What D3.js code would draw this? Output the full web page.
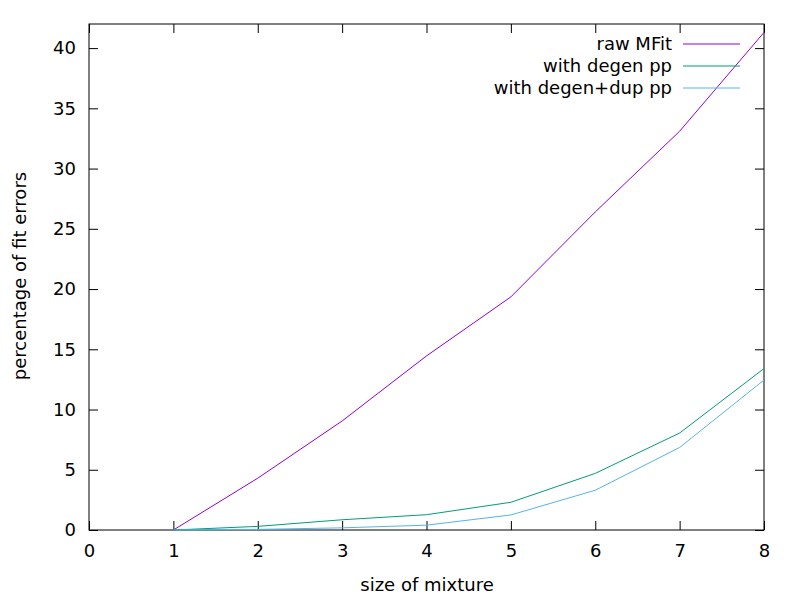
<!DOCTYPE html>
<html><head><meta charset="utf-8">
<script src="https://cdn.jsdelivr.net/npm/d3@7"></script>
<style>body{margin:0;background:#fff}text{font-family:"DejaVu Sans",sans-serif;}</style>
</head><body><svg id="c" width="800" height="600"></svg>
<script>
const sizes = [1,2,3,4,5,6,7,8];
const rawMFit = [0,4.3,9.05,14.45,19.35,26.4,33.1,41.3];
const degenPP = [0,0.3,0.85,1.27,2.3,4.7,8.05,13.4];
const degenDupPP = [0,0.05,0.18,0.4,1.25,3.3,6.85,12.45];
const seriesNames = ["raw MFit","with degen pp","with degen+dup pp"];
const colors = ["#9400d3","#009e73","#56b4e9"];
const xTicks = [0,1,2,3,4,5,6,7,8];
const yTicks = [0,5,10,15,20,25,30,35,40];

const L=89,R=764,T=24,B=530;
const svg=d3.select("#c");
const x=d3.scaleLinear().domain([0,8]).range([L,R]);
const y=d3.scaleLinear().domain([0,42]).range([B,T]);
const fs="18px";

const gx=svg.append("g").attr("transform",`translate(0,${B})`)
  .call(d3.axisBottom(x).tickValues(xTicks).tickSizeInner(-9).tickSizeOuter(0).tickPadding(14));
const gxt=svg.append("g").attr("transform",`translate(0,${T})`)
  .call(d3.axisTop(x).tickValues(xTicks).tickSizeInner(-9).tickSizeOuter(0).tickFormat(""));
const gy=svg.append("g").attr("transform",`translate(${L},0)`)
  .call(d3.axisLeft(y).tickValues(yTicks).tickSizeInner(-9).tickSizeOuter(0).tickPadding(13));
const gyr=svg.append("g").attr("transform",`translate(${R},0)`)
  .call(d3.axisRight(y).tickValues(yTicks).tickSizeInner(-9).tickSizeOuter(0).tickFormat(""));
[gx,gxt,gy,gyr].forEach(g=>{
  g.select(".domain").remove();
  g.selectAll("line").attr("stroke","#000").attr("stroke-width",1);
  g.selectAll("text").attr("font-family","DejaVu Sans, sans-serif").attr("font-size",fs).attr("fill","#000");
});
gx.selectAll("text").attr("dy","0.71em");

svg.append("rect").attr("x",L).attr("y",T).attr("width",R-L).attr("height",B-T)
  .attr("fill","none").attr("stroke","#000").attr("stroke-width",1);

const all=[rawMFit,degenPP,degenDupPP];
const line=d3.line().x((d,i)=>x(sizes[i])).y(d=>y(d));
all.forEach((s,k)=>{
  svg.append("path").datum(s).attr("d",line).attr("fill","none")
    .attr("stroke",colors[k]).attr("stroke-width",1);
});

seriesNames.forEach((n,k)=>{
  const yy=44+k*22;
  svg.append("text").attr("x",672).attr("y",yy).attr("dy","0.35em").attr("text-anchor","end")
    .attr("font-size",fs).text(n);
  svg.append("line").attr("x1",683).attr("x2",740).attr("y1",yy).attr("y2",yy)
    .attr("stroke",colors[k]).attr("stroke-width",1);
});

svg.append("text").attr("x",427).attr("y",591).attr("text-anchor","middle").attr("font-size",fs).text("size of mixture");
svg.append("text").attr("transform","translate(26,276) rotate(-90)").attr("text-anchor","middle").attr("font-size",fs).text("percentage of fit errors");
</script></body></html>
